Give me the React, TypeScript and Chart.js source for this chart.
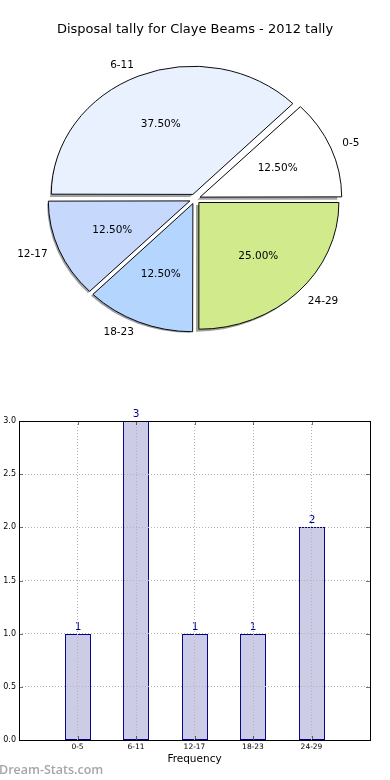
import React, { useEffect, useRef } from 'react';
import { Chart, registerables } from 'chart.js';

Chart.register(...registerables);

const TITLE = 'Disposal tally for Claye Beams - 2012 tally';
const CATEGORIES = ['0-5', '6-11', '12-17', '18-23', '24-29'];
const COUNTS = [1, 3, 1, 1, 2];
const PIE_COLORS = ['#ffffff', '#eaf1fe', '#c6d9fd', '#b4d5fe', '#d0ea8c'];
const Y_MIN = 0;
const Y_MAX = 3;
const Y_STEP = 0.5;
const X_TITLE = 'Frequency';
const WATERMARK = 'Dream-Stats.com';

const FONT = "'DejaVu Sans', sans-serif";
const EXPLODE = 5.5; // px translation of each wedge
const SY = 0.905; // vertical squash of the pie (non-equal aspect)
const PIE_RADIUS = 140;
const SHADOW_DX = -2.8;
const SHADOW_DY = 2.8;

function hexToRgb(hex: string): [number, number, number] {
  const h = hex.replace('#', '');
  return [parseInt(h.slice(0, 2), 16), parseInt(h.slice(2, 4), 16), parseInt(h.slice(4, 6), 16)];
}

const pieDecor = {
  id: 'pieDecor',
  beforeDatasetsDraw(chart: any) {
    const ctx = chart.ctx as CanvasRenderingContext2D;
    const arcs = chart.getDatasetMeta(0).data;
    const { x, y } = arcs[0];
    ctx.save();
    ctx.translate(x, y);
    ctx.scale(1, SY);
    ctx.translate(-x, -y);
    arcs.forEach((arc: any) => {
      const { startAngle, endAngle, outerRadius } = arc;
      const mid = (startAngle + endAngle) / 2;
      const cx = x + Math.cos(mid) * EXPLODE + SHADOW_DX;
      const cy = y + Math.sin(mid) * EXPLODE + SHADOW_DY;
      const [r, g, b] = hexToRgb(arc.options.backgroundColor);
      const col = `rgba(${Math.round(r * 0.3)},${Math.round(g * 0.3)},${Math.round(b * 0.3)},0.5)`;
      ctx.beginPath();
      ctx.moveTo(cx, cy);
      ctx.arc(cx, cy, outerRadius, startAngle, endAngle);
      ctx.closePath();
      ctx.fillStyle = col;
      ctx.fill();
    });
  },
  afterDatasetsDraw(chart: any) {
    const ctx = chart.ctx as CanvasRenderingContext2D;
    ctx.restore();
    const meta = chart.getDatasetMeta(0);
    const arcs = meta.data;
    const labels = chart.data.labels as string[];
    const values = chart.data.datasets[0].data as number[];
    const total = values.reduce((a, b) => a + b, 0);
    ctx.save();
    ctx.fillStyle = '#000';
    ctx.font = `10.5px ${FONT}`;
    ctx.textBaseline = 'middle';
    arcs.forEach((arc: any, i: number) => {
      const { x, y, startAngle, endAngle, outerRadius } = arc;
      const mid = (startAngle + endAngle) / 2;
      const c = Math.cos(mid);
      const s = Math.sin(mid);
      const lr = EXPLODE + 1.1 * outerRadius;
      ctx.textAlign = c > 0 ? 'left' : 'right';
      ctx.fillText(labels[i], x + c * lr, y + s * lr * SY);
      const pr = EXPLODE + 0.6 * outerRadius;
      ctx.textAlign = 'center';
      ctx.fillText(((values[i] / total) * 100).toFixed(2) + '%', x + c * pr, y + s * pr * SY);
    });
    ctx.restore();
  },
  afterDraw(chart: any) {
    const ctx = chart.ctx as CanvasRenderingContext2D;
    ctx.save();
    ctx.fillStyle = '#000';
    ctx.font = `13px ${FONT}`;
    ctx.textAlign = 'center';
    ctx.textBaseline = 'middle';
    ctx.fillText(TITLE, 195, 30);
    ctx.restore();
  },
};

const barDecor = {
  id: 'barDecor',
  beforeDatasetsDraw(chart: any) {
    // pixel-snap the bar elements so their outlines are crisp
    chart.getDatasetMeta(0).data.forEach((bar: any) => {
      bar.x = Math.round(bar.x);
      bar.y = Math.round(bar.y);
      bar.base = Math.round(bar.base);
    });
  },
  afterDatasetsDraw(chart: any) {
    const ctx = chart.ctx as CanvasRenderingContext2D;
    const meta = chart.getDatasetMeta(0);
    ctx.save();
    ctx.fillStyle = '#00008b';
    ctx.font = `10.5px ${FONT}`;
    ctx.textAlign = 'center';
    ctx.textBaseline = 'alphabetic';
    meta.data.forEach((bar: any, i: number) => {
      ctx.fillText(String(COUNTS[i]), bar.x, bar.y - 4);
    });
    ctx.restore();
  },
  afterDraw(chart: any) {
    const ctx = chart.ctx as CanvasRenderingContext2D;
    const { left, right, top, bottom } = chart.chartArea;
    ctx.save();
    // inward tick marks
    ctx.strokeStyle = 'rgba(0,0,0,0.55)';
    ctx.lineWidth = 1;
    const xs = chart.scales.x;
    const ys = chart.scales.y;
    ctx.beginPath();
    CATEGORIES.forEach((_, i) => {
      const px = Math.round(xs.getPixelForValue(i)) + 0.5;
      ctx.moveTo(px, bottom);
      ctx.lineTo(px, bottom - 4);
      ctx.moveTo(px, top);
      ctx.lineTo(px, top + 4);
    });
    for (let v = Y_MIN; v <= Y_MAX + 1e-9; v += Y_STEP) {
      const py = Math.round(ys.getPixelForValue(v)) + 0.5;
      ctx.moveTo(left, py);
      ctx.lineTo(left + 4, py);
      ctx.moveTo(right, py);
      ctx.lineTo(right - 4, py);
    }
    ctx.stroke();
    // frame
    ctx.strokeStyle = '#000';
    ctx.lineWidth = 1;
    ctx.strokeRect(Math.round(left) + 0.5, Math.round(top) + 0.5, Math.round(right - left), Math.round(bottom - top));
    // watermark
    ctx.fillStyle = '#a6a6a6';
    ctx.font = `600 12.5px 'Open Sans', sans-serif`;
    ctx.textAlign = 'left';
    ctx.textBaseline = 'alphabetic';
    ctx.fillText(WATERMARK, -1, 394);
    ctx.restore();
  },
};

export default function App() {
  const pieRef = useRef<HTMLCanvasElement | null>(null);
  const barRef = useRef<HTMLCanvasElement | null>(null);

  useEffect(() => {
    const order = CATEGORIES.map((_, i) => CATEGORIES.length - 1 - i);
    const pie = new Chart(pieRef.current as HTMLCanvasElement, {
      type: 'pie',
      data: {
        labels: order.map((i) => CATEGORIES[i]),
        datasets: [
          {
            data: order.map((i) => COUNTS[i]),
            backgroundColor: order.map((i) => PIE_COLORS[i]),
            borderColor: '#000',
            borderWidth: 1,
            offset: EXPLODE * 4,
            radius: PIE_RADIUS,
          } as any,
        ],
      },
      options: {
        animation: false,
        responsive: false,
        rotation: 90,
        events: [],
        plugins: { legend: { display: false }, tooltip: { enabled: false }, title: { display: false } },
      } as any,
      plugins: [pieDecor],
    });

    const gridDash = { dash: [1, 2], display: false };
    const bar = new Chart(barRef.current as HTMLCanvasElement, {
      type: 'bar',
      data: {
        datasets: [
          {
            data: COUNTS.map((v, i) => ({ x: i, y: v })),
            backgroundColor: '#ccccE6',
            borderColor: '#00008b',
            borderWidth: 1,
            borderSkipped: false,
            barPercentage: 0.445,
            categoryPercentage: 1,
          } as any,
        ],
      },
      options: {
        animation: false,
        responsive: false,
        events: [],
        layout: { padding: { top: 41, right: 20, left: 0, bottom: 0 } },
        plugins: { legend: { display: false }, tooltip: { enabled: false } },
        scales: {
          x: {
            type: 'linear',
            min: -1,
            max: 5,
            offset: false,
            afterFit: (s: any) => {
              s.height = 40;
            },
            ticks: {
              stepSize: 1,
              autoSkip: false,
              maxRotation: 0,
              padding: 3,
              color: '#000',
              font: { family: FONT, size: 7.5 },
              callback: (v: any) => CATEGORIES[v] ?? '',
            },
            grid: {
              z: 1,
              offset: false,
              drawTicks: false,
              lineWidth: 1,
              color: (c: any) => (c.tick && c.tick.value >= 0 && c.tick.value < CATEGORIES.length ? '#b4b4b4' : 'rgba(0,0,0,0)'),
            },
            border: gridDash,
            title: {
              display: true,
              text: X_TITLE,
              color: '#000',
              font: { family: FONT, size: 10.5 },
              padding: { top: 0, bottom: 14.7 },
            },
          },
          y: {
            min: Y_MIN,
            max: Y_MAX,
            afterFit: (s: any) => {
              s.width = 19;
            },
            ticks: {
              stepSize: Y_STEP,
              padding: 3,
              color: '#000',
              font: { family: FONT, size: 8 },
              callback: (v: any) => Number(v).toFixed(1),
            },
            grid: {
              z: 1,
              drawTicks: false,
              lineWidth: 1,
              color: '#b4b4b4',
            },
            border: gridDash,
          },
        },
      } as any,
      plugins: [barDecor],
    });

    return () => {
      pie.destroy();
      bar.destroy();
    };
  }, []);

  return (
    <div style={{ position: 'fixed', left: 0, top: 0, width: 390, height: 780, background: '#fff', overflow: 'hidden' }}>
      <canvas ref={pieRef} width={390} height={398} style={{ position: 'absolute', left: 0, top: 0 }} />
      <canvas ref={barRef} width={390} height={400} style={{ position: 'absolute', left: 0, top: 380 }} />
    </div>
  );
}
